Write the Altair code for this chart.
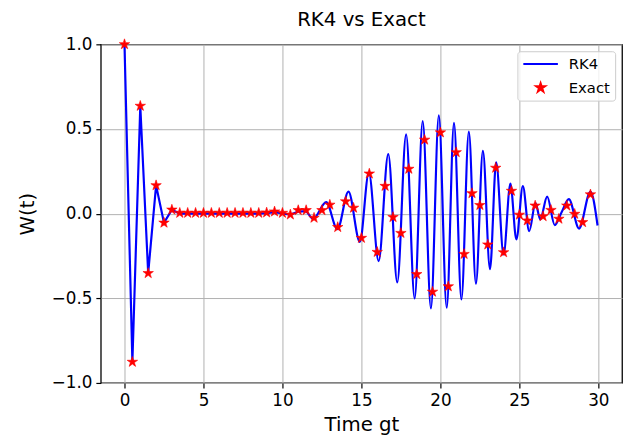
import altair as alt
import pandas as pd

# ---- data ----
exact_t = [0.0, 0.5, 1.0, 1.5, 2.0, 2.5, 3.0, 3.5, 4.0, 4.5, 5.0, 5.5, 6.0, 6.5, 7.0, 7.5,
           8.0, 8.5, 9.0, 9.5, 10.0, 10.5, 11.0, 11.5, 12.0, 12.5, 13.0, 13.5, 14.0, 14.5,
           15.0, 15.5, 16.0, 16.5, 17.0, 17.5, 18.0, 18.5, 19.0, 19.5, 20.0, 20.5, 21.0,
           21.5, 22.0, 22.5, 23.0, 23.5, 24.0, 24.5, 25.0, 25.5, 26.0, 26.5, 27.0, 27.5,
           28.0, 28.5, 29.0, 29.5]
exact_w = [1.0, -0.876, 0.636, -0.352, 0.167, -0.054, 0.023, 0.004, 0.004, 0.004, 0.004,
           0.004, 0.004, 0.004, 0.004, 0.004, 0.004, 0.004, 0.006, 0.012, 0.004, -0.006,
           0.02, 0.02, -0.025, 0.02, 0.052, -0.08, 0.072, 0.034, -0.144, 0.236, -0.227,
           0.163, -0.021, -0.115, 0.264, -0.358, 0.436, -0.462, 0.479, -0.43, 0.362,
           -0.239, 0.12, 0.05, -0.183, 0.27, -0.229, 0.134, -0.007, -0.041, 0.047, -0.016,
           0.021, -0.031, 0.047, -0.002, -0.051, 0.113]

# RK4 curve, early (collapse) part
rk4_early_t = [0.0, 0.5, 1.0, 1.5, 2.0, 2.5, 3.0, 3.5, 4.0, 4.5, 5.0, 5.5, 6.0, 6.5, 7.0,
               7.5, 8.0, 8.5, 9.0, 9.5, 10.0, 10.5, 11.0]
rk4_early_w = [1.0, -0.876, 0.636, -0.352, 0.167, -0.054, 0.023, 0.0, 0.001, 0.0, 0.001,
               0.0, 0.001, 0.0, 0.001, 0.0, 0.001, 0.0, 0.003, 0.008, 0.001, -0.006, 0.012]

# RK4 curve, revival part (turning points)
rk4_late_t = [11.0, 11.45, 11.94, 12.77, 13.48, 14.18, 14.9, 15.47, 16.09, 16.7, 17.27,
              17.83, 18.37, 18.88, 19.4, 19.9, 20.4, 20.86, 21.33, 21.8, 22.25, 22.69,
              23.14, 23.53, 24.0, 24.43, 24.81, 25.22, 25.62, 26.02, 26.32, 26.76, 27.24,
              27.68, 28.13, 28.78, 29.5, 29.95]
rk4_late_w = [0.012, 0.015, -0.031, 0.068, -0.092, 0.13, -0.167, 0.243, -0.28, 0.352,
              -0.406, 0.468, -0.501, 0.546, -0.56, 0.58, -0.556, 0.536, -0.507, 0.484,
              -0.414, 0.371, -0.328, 0.303, -0.241, 0.177, -0.152, 0.163, -0.104, 0.062,
              -0.034, 0.1, -0.068, 0.01, 0.086, -0.088, 0.13, -0.07]

series_names = ["RK4", "Exact"]
series_colors = ["#0000ff", "#ff0000"]
x_ticks = [0, 5, 10, 15, 20, 25, 30]
y_ticks = [-1.0, -0.5, 0.0, 0.5, 1.0]

STAR = ("M0,-0.27L0.0607,-0.0834L0.2568,-0.0834L0.0981,0.0319L0.1587,0.2184L0,0.1031"
        "L-0.1587,0.2184L-0.0981,0.0319L-0.2568,-0.0834L-0.0607,-0.0834Z")

df_early = pd.DataFrame({"t": rk4_early_t, "w": rk4_early_w, "series": "RK4"})
df_late = pd.DataFrame({"t": rk4_late_t, "w": rk4_late_w, "series": "RK4"})
df_exact = pd.DataFrame({"t": exact_t, "w": exact_w, "series": "Exact"})

FONT = "DejaVu Sans"

legend = alt.Legend(
    title=None, orient="top-right", offset=7, padding=5,
    fillColor="rgba(255,255,255,0.8)", strokeColor="#cccccc", cornerRadius=3,
    symbolSize=1225, symbolStrokeWidth=2, clipHeight=16, rowPadding=8,
    labelOffset=10, labelFontSize=15, labelFont=FONT, labelColor="black",
    symbolOpacity=1,
)

color_scale = alt.Scale(domain=series_names, range=series_colors)
x_enc = alt.X("t:Q", scale=alt.Scale(domain=[-1.5, 31.5], nice=False, zero=False),
              axis=alt.Axis(values=x_ticks, format="d", title="Time gt"))
y_enc = alt.Y("w:Q", scale=alt.Scale(domain=[-1.0, 1.0], nice=False),
              axis=alt.Axis(values=y_ticks, format=".1f", title="W(t)"))

early = alt.Chart(df_early).mark_line(strokeWidth=2.2, clip=True).encode(
    x=x_enc, y=y_enc,
    stroke=alt.Stroke("series:N", scale=color_scale, legend=legend),
)
late = alt.Chart(df_late).mark_line(strokeWidth=2.2, interpolate="monotone", clip=True).encode(
    x=x_enc, y=y_enc,
    stroke=alt.Stroke("series:N", scale=color_scale, legend=legend),
)
stars = alt.Chart(df_exact).mark_point(filled=True, size=1700, opacity=1,
                                       strokeWidth=0.6).encode(
    x=x_enc, y=y_enc,
    fill=alt.Fill("series:N", scale=color_scale, legend=legend),
    stroke=alt.Stroke("series:N", scale=color_scale, legend=legend),
    shape=alt.Shape("series:N", scale=alt.Scale(domain=series_names, range=["stroke", STAR]),
                    legend=legend),
)

chart = alt.layer(early, late, stars).properties(
    width=528, height=343,
    autosize=alt.AutoSizeParams(type="none"),
    padding={"left": 94, "top": 34, "right": 4, "bottom": 56},
    title=alt.TitleParams("RK4 vs Exact", font=FONT, fontSize=20, fontWeight="normal",
                          color="black", anchor="middle", offset=6),
).configure_view(
    stroke="black", strokeWidth=1.3,
).configure_axis(
    grid=True, gridColor="#b0b0b0", gridWidth=1, domain=False,
    tickColor="black", tickSize=5, tickWidth=1.2,
    labelFont=FONT, labelFontSize=17, labelColor="black",
    titleFont=FONT, titleFontSize=20, titleFontWeight="normal", titleColor="black",
).configure_axisX(
    labelPadding=5, titlePadding=6,
).configure_axisY(
    labelPadding=4, titlePadding=14,
)

chart.save("out.html", embed_options={"renderer": "svg", "actions": False})
